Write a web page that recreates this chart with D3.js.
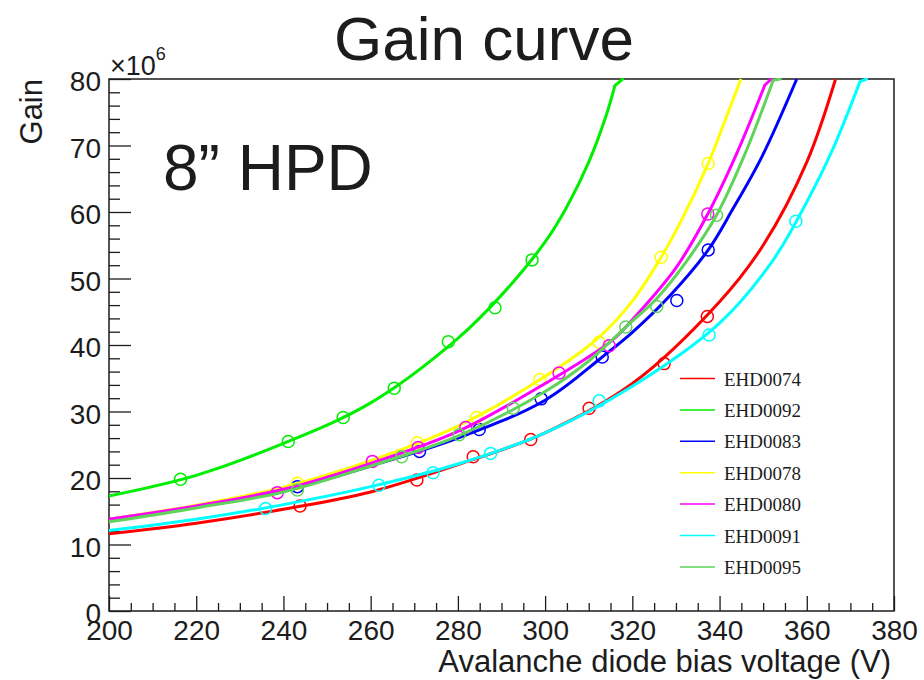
<!DOCTYPE html>
<html>
<head>
<meta charset="utf-8">
<script src="https://cdn.jsdelivr.net/npm/d3@7"></script>
<style>
  html, body { margin: 0; padding: 0; background: #fff; }
  svg { display: block; font-family: "Liberation Sans", Arial, Helvetica, sans-serif; }
</style>
</head>
<body>
<svg id="chart" width="924" height="680"></svg>
<script>
// Bias voltage axis (V) and gain axis (units of 10^6)
const xDomain = [200, 380];
const yDomain = [0, 80];
const xMajorTicks = [200, 220, 240, 260, 280, 300, 320, 340, 360, 380];
const yMajorTicks = [0, 10, 20, 30, 40, 50, 60, 70, 80];

// Device names, in legend order
const devices = ["EHD0074", "EHD0092", "EHD0083", "EHD0078", "EHD0080", "EHD0091", "EHD0095"];
const colors  = ["#ff0000", "#00ee00", "#0000ff", "#ffff00", "#ff00ff", "#00ffff", "#5fd35a"];

// Measured gain points: [voltage, gain x1e6]
const meas0074 = [[243.8,15.8],[270.6,19.7],[283.5,23.2],[296.7,25.8],[310.1,30.5],[327.3,37.2],[337.2,44.3]];
const meas0092 = [[216.4,19.8],[241.1,25.5],[253.7,29.1],[265.4,33.5],[277.8,40.5],[288.5,45.6],[297.0,52.8]];
const meas0083 = [[243.2,18.7],[271.2,24.0],[284.9,27.3],[299.1,31.9],[313.1,38.2],[330.2,46.7],[337.4,54.3]];
const meas0078 = [[243.2,19.2],[270.7,25.3],[284.3,29.1],[298.8,34.8],[312.4,40.4],[326.6,53.2],[337.4,67.3]];
const meas0080 = [[238.6,17.8],[260.4,22.5],[270.9,24.6],[281.8,27.6],[303.2,35.8],[314.7,39.9],[337.3,59.7]];
const meas0091 = [[235.9,15.4],[261.9,18.9],[274.3,20.8],[287.5,23.7],[312.4,31.6],[337.6,41.5],[357.5,58.6]];
const meas0095 = [[243.2,18.2],[267.1,23.2],[280.3,26.5],[292.7,30.5],[318.5,42.7],[325.6,45.8],[339.3,59.5]];

// Fitted gain curves sampled along the voltage axis, up to where they leave the frame
const fit0074 = [[200,11.6],[220,13.2],[240,15.3],[260,17.9],[280,22.0],[300,26.8],[320,34.2],[340,46.5],[350,55.0],[360,67.5],[366.6,80]];
const fit0092 = [[200,17.3],[220,20.4],[240,25.2],[260,31.3],[280,41.0],[290,47.5],[300,55.5],[305,60.8],[310,67.5],[314,74.5],[316,79.0]];
const fit0083 = [[200,13.8],[220,15.7],[240,18.1],[260,21.8],[280,26.0],[300,31.7],[313.1,38.2],[320,41.9],[328.6,47.4],[337.4,54.3],[343,60.4],[349.7,68.3],[357.7,80]];
const fit0078 = [[200,13.8],[220,15.9],[240,18.6],[260,22.6],[280,27.8],[300,35.3],[312.4,41.2],[320,46.6],[326.6,53.2],[331,58.4],[337.4,67.3],[341,73.3],[344.9,80]];
const fit0080 = [[200,13.8],[220,15.8],[240,18.3],[260,22.2],[280,27.0],[300,34.2],[315,40.5],[320,43.8],[330,51.6],[337.3,59.7],[344,68.9],[350.4,79.1]];
const fit0091 = [[200,12.1],[220,13.8],[240,16.0],[260,18.7],[280,22.1],[300,26.8],[320,33.8],[340,43.3],[352,52.5],[360,61.5],[366,69.5],[372.2,79.6]];
const fit0095 = [[200,13.4],[220,15.5],[240,17.9],[260,21.8],[280,26.3],[300,33.0],[310,37.6],[318.5,42.7],[325.6,47.0],[332,52.2],[339.3,59.5],[346,69.0],[352.3,79.8]];

// Voltage where a clipped curve's short run along the top of the frame ends (null: no run)
const topRunEnd = [null, 317.8, null, null, 351.9, 373.7, 353.9];

const measured = [meas0074, meas0092, meas0083, meas0078, meas0080, meas0091, meas0095];
const fits     = [fit0074, fit0092, fit0083, fit0078, fit0080, fit0091, fit0095];

const frame = { left: 109, right: 894, top: 79, bottom: 611 };
const svg = d3.select("#chart");
const ink = "#1c1c1c";

const x = d3.scaleLinear().domain(xDomain).range([frame.left, frame.right]);
const y = d3.scaleLinear().domain(yDomain).range([frame.bottom, frame.top]);

// Minor ticks every 5 V and every 2 units of gain
const xMinorTicks = d3.range(xDomain[0], xDomain[1] + 0.001, 5).filter(v => v % 20 !== 0);
const yMinorTicks = d3.range(yDomain[0], yDomain[1] + 0.001, 2).filter(v => v % 10 !== 0);

svg.append("defs").append("clipPath").attr("id", "plotClip")
  .append("rect")
  .attr("x", frame.left).attr("y", frame.top - 1)
  .attr("width", frame.right - frame.left).attr("height", frame.bottom - frame.top + 1);

// Title and annotation
svg.append("text")
  .attr("x", 484).attr("y", 60)
  .attr("text-anchor", "middle")
  .attr("font-size", 62).attr("fill", ink)
  .text("Gain curve");

svg.append("text")
  .attr("x", 163).attr("y", 190)
  .attr("font-size", 64).attr("fill", ink)
  .text("8\u201D HPD");

// Axes
const xMajor = d3.axisBottom(x).tickValues(xMajorTicks).tickSizeInner(-15).tickSizeOuter(0).tickPadding(9).tickFormat(d3.format("d"));
const xMinor = d3.axisBottom(x).tickValues(xMinorTicks).tickSizeInner(-8).tickSizeOuter(0).tickFormat("");
const yMajor = d3.axisLeft(y).tickValues(yMajorTicks).tickSizeInner(-22).tickSizeOuter(0).tickPadding(8).tickFormat(d3.format("d"));
const yMinor = d3.axisLeft(y).tickValues(yMinorTicks).tickSizeInner(-11).tickSizeOuter(0).tickFormat("");

function styleAxis(g) {
  g.select(".domain").remove();
  g.selectAll(".tick line").attr("stroke", ink).attr("stroke-width", 1.3);
  g.selectAll(".tick text").attr("fill", ink).attr("font-size", 28)
    .attr("font-family", "'Liberation Sans', Arial, Helvetica, sans-serif");
}

svg.append("g").attr("transform", `translate(0,${frame.bottom})`).call(xMinor).call(styleAxis);
svg.append("g").attr("transform", `translate(0,${frame.bottom})`).call(xMajor).call(styleAxis);
svg.append("g").attr("transform", `translate(${frame.left},0)`).call(yMinor).call(styleAxis);
svg.append("g").attr("transform", `translate(${frame.left},0)`).call(yMajor).call(styleAxis)
  .selectAll(".tick text").attr("dy", "0.42em");

// Frame
svg.append("rect")
  .attr("x", frame.left).attr("y", frame.top)
  .attr("width", frame.right - frame.left).attr("height", frame.bottom - frame.top)
  .attr("fill", "none").attr("stroke", ink).attr("stroke-width", 1.5);

// Axis titles
svg.append("text")
  .attr("x", frame.right - 3).attr("y", 672)
  .attr("text-anchor", "end")
  .attr("font-size", 31).attr("fill", ink)
  .text("Avalanche diode bias voltage (V)");

svg.append("text")
  .attr("transform", `translate(42,${frame.top}) rotate(-90)`)
  .attr("text-anchor", "end")
  .attr("font-size", 31).attr("fill", ink)
  .text("Gain");

// Exponent label for the gain axis
const expo = svg.append("text").attr("x", 110).attr("y", 75).attr("font-size", 27).attr("fill", ink);
expo.append("tspan").text("\u00D710");
expo.append("tspan").attr("dy", -15).attr("font-size", 18).text("6");

// Fit curves and measured points
const plot = svg.append("g").attr("clip-path", "url(#plotClip)");
const smooth = d3.line()
  .x(d => x(d[0]))
  .y(d => y(d[1]))
  .curve(d3.curveCatmullRom.alpha(0.5));
const straight = d3.line()
  .x(d => x(d[0]))
  .y(d => y(d[1]));

devices.forEach((name, i) => {
  const fit = fits[i];
  plot.append("path")
    .datum(fit)
    .attr("d", smooth)
    .attr("fill", "none")
    .attr("stroke", colors[i])
    .attr("stroke-width", 3)
    .attr("stroke-linejoin", "round");

  if (topRunEnd[i] !== null) {
    const last = fit[fit.length - 1];
    plot.append("path")
      .datum([last, [topRunEnd[i], yDomain[1]]])
      .attr("d", straight)
      .attr("fill", "none")
      .attr("stroke", colors[i])
      .attr("stroke-width", 3)
      .attr("stroke-linecap", "round");
  }

  plot.append("g").selectAll("circle")
    .data(measured[i])
    .join("circle")
    .attr("cx", d => x(d[0]))
    .attr("cy", d => y(d[1]))
    .attr("r", 6)
    .attr("fill", "none")
    .attr("stroke", colors[i])
    .attr("stroke-width", 1.5);
});

// Legend
const legend = svg.append("g");
devices.forEach((name, i) => {
  const ly = 378.5 + i * 31.4;
  legend.append("line")
    .attr("x1", 680).attr("x2", 715)
    .attr("y1", ly).attr("y2", ly)
    .attr("stroke", colors[i]).attr("stroke-width", 1.5);
  legend.append("text")
    .attr("x", 724).attr("y", ly + 7)
    .attr("font-family", "'Liberation Serif', 'Times New Roman', serif")
    .attr("font-size", 19).attr("fill", ink)
    .text(name);
});
</script>
</body>
</html>
